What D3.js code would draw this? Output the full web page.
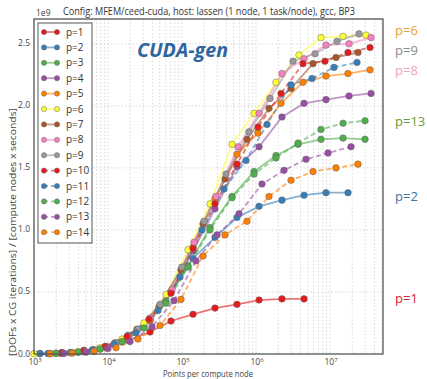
<!DOCTYPE html>
<html><head><meta charset="utf-8">
<script src="https://cdn.jsdelivr.net/npm/d3@7"></script>
<style>body{margin:0;background:#fff}svg{display:block;font-family:"Open Sans",sans-serif}</style>
</head><body><svg id="c" width="427" height="379"></svg>
<script>
const seriesNames = ["p=1","p=2","p=3","p=4","p=5","p=6","p=7","p=8","p=9","p=10","p=11","p=12","p=13","p=14"];
const seriesColors = ["#e41a1c","#377eb8","#4daf4a","#984ea3","#ff7f00","#ffff33","#a65628","#f781bf","#999999","#e41a1c","#377eb8","#4daf4a","#984ea3","#ff7f00"];
const seriesDashed = [false,false,false,false,false,false,false,false,false,true,true,true,true,true];

const p1x = [1205,2389,4742,9397,18640,36970,70960,140900,279200,553400,1099000,2244000,4457000];
const p1y = [0.004,0.012,0.03,0.06,0.11,0.177,0.266,0.32,0.37,0.40,0.435,0.444,0.444];
const p2x = [1205,2389,4742,9397,18640,36970,70960,140900,279200,553400,1099000,2244000,4457000,8831000,17500000];
const p2y = [0.003,0.01,0.025,0.06,0.15,0.28,0.50,0.77,0.94,1.10,1.19,1.24,1.28,1.30,1.30];
const p3x = [1983,3934,7798,15460,30620,60810,120500,238800,474200,939700,1862000,3698000,7551000,15000000,29720000];
const p3y = [0.005,0.015,0.04,0.10,0.22,0.42,0.71,1.02,1.27,1.47,1.60,1.69,1.73,1.74,1.73];
const p4x = [2389,4742,9397,18640,36970,70960,140900,279200,553400,1099000,2244000,4457000,8831000,18070000,35810000];
const p4y = [0.007,0.02,0.05,0.12,0.27,0.50,0.83,1.17,1.51,1.67,1.91,2.02,2.05,2.08,2.10];
const p5x = [2389,4742,9397,18640,36970,70960,140900,279200,553400,1064000,2178000,4315000,8831000,17500000,34750000];
const p5y = [0.006,0.02,0.05,0.12,0.27,0.50,0.86,1.25,1.61,1.78,2.02,2.19,2.24,2.26,2.29];
const p6x = [1000,1983,3934,7798,15460,30620,60810,120500,238800,474200,939700,1862000,3811000,7551000,15000000,30620000];
const p6y = [0.002,0.007,0.02,0.05,0.12,0.25,0.48,0.84,1.21,1.69,1.94,2.19,2.41,2.55,2.56,2.57];
const p7x = [1595,3162,6270,12440,24660,48870,96830,192300,381100,755100,1500000,2972000,5888000,12050000,23890000];
const p7y = [0.004,0.012,0.035,0.09,0.2,0.38,0.68,1.05,1.41,1.73,1.98,2.14,2.34,2.39,2.43];
const p8x = [2389,4742,9397,18640,36970,73280,145200,287800,571500,1099000,2244000,4457000,8831000,18070000,35810000];
const p8y = [0.007,0.02,0.06,0.14,0.29,0.52,0.90,1.27,1.67,1.94,2.26,2.38,2.49,2.50,2.55];
const p9x = [1645,3264,6471,12830,25430,50470,100000,198200,393500,803500,1546000,3162000,6266000,12450000,24660000];
const p9y = [0.004,0.012,0.035,0.09,0.2,0.40,0.70,1.07,1.45,1.79,2.06,2.36,2.42,2.52,2.58];
const p10x = [2317,4592,9101,18070,35810,70960,140900,279200,553400,1064000,2178000,4315000,8551000,17500000,34750000];
const p10y = [0.007,0.02,0.06,0.14,0.28,0.49,0.85,1.21,1.53,1.83,2.10,2.34,2.36,2.43,2.47];
const p11x = [1546,3065,6081,12053,23890,47420,93970,186200,369600,732800,1409000,2972000,5715000,11320000,23170000];
const p11y = [0.003,0.01,0.03,0.08,0.17,0.35,0.62,1.00,1.33,1.56,1.85,2.17,2.22,2.31,2.35];
const p12x = [1983,3934,7798,15460,30620,60810,120500,238800,474200,939700,1862000,3698000,7551000,15000000,29720000];
const p12y = [0.005,0.014,0.04,0.10,0.21,0.41,0.70,1.00,1.26,1.45,1.58,1.70,1.81,1.86,1.88];
const p13x = [2543,5047,10000,19820,39330,77980,154500,297200,589000,1205000,2389000,4742000,9397000,19230000];
const p13y = [0.005,0.015,0.045,0.10,0.22,0.43,0.75,0.96,1.13,1.37,1.48,1.57,1.62,1.67];
const p14x = [1645,3264,6471,12830,25430,50470,96830,192300,381100,755100,1500000,2972000,5888000,12050000,23890000];
const p14y = [0.002,0.007,0.02,0.05,0.12,0.23,0.44,0.79,0.96,1.07,1.27,1.40,1.47,1.50,1.53];

const xTickExps = [3,4,5,6,7];
const yTicks = [0.0,0.5,1.0,1.5,2.0,2.5];
const sideLabels = ["p=6","p=9","p=8","p=13","p=2","p=1"];
const sideLabelColors = ["#e8a030","#8c8c8c","#f4a3bd","#6a9c34","#3a74a8","#d8232f"];
const sideLabelVals = [2.61,2.45,2.29,1.88,1.27,0.45];

const xs = [p1x,p2x,p3x,p4x,p5x,p6x,p7x,p8x,p9x,p10x,p11x,p12x,p13x,p14x];
const ys = [p1y,p2y,p3y,p4y,p5y,p6y,p7y,p8y,p9y,p10y,p11y,p12y,p13y,p14y];

const svg = d3.select("#c");
const L=34, R=383, T=19, B=354;
const x = d3.scaleLog().domain([1e3, 5.2e7]).range([L, R]);
const y = d3.scaleLinear().domain([0, 2.7]).range([B, T]);

// grid
const g = svg.append("g");
const minor = [];
for (let e=3;e<=7;e++) for (let m=1;m<=9;m++){ const v=m*Math.pow(10,e); if(v>1e3 && v<5.2e7) minor.push(v); }
g.selectAll("line.vg").data(minor).enter().append("line")
  .attr("x1",d=>x(d)).attr("x2",d=>x(d)).attr("y1",T).attr("y2",B)
  .attr("stroke","#d0d0d0").attr("stroke-width",0.8).attr("stroke-dasharray","1.5,2");
g.selectAll("line.hg").data(yTicks.slice(1)).enter().append("line")
  .attr("x1",L).attr("x2",R).attr("y1",d=>y(d)).attr("y2",d=>y(d))
  .attr("stroke","#d0d0d0").attr("stroke-width",0.8).attr("stroke-dasharray","1.5,2");

// series
const line = d3.line().x(d=>x(d[0])).y(d=>y(d[1]));
const plot = svg.append("g");
seriesNames.forEach((n,i)=>{
  const pts = xs[i].map((v,j)=>[v, ys[i][j]]);
  plot.append("path").datum(pts).attr("d",line).attr("fill","none")
    .attr("stroke",seriesColors[i]).attr("stroke-width",1.8).attr("stroke-opacity",0.6)
    .attr("stroke-dasharray", seriesDashed[i] ? "5,3" : null);
});
seriesNames.forEach((n,i)=>{
  const pts = xs[i].map((v,j)=>[v, ys[i][j]]);
  plot.selectAll(null).data(pts).enter().append("circle")
    .attr("cx",d=>x(d[0])).attr("cy",d=>y(d[1])).attr("r",3.3)
    .attr("fill",seriesColors[i]).attr("stroke","#666").attr("stroke-width",0.5);
});

// spines
svg.append("rect").attr("x",L).attr("y",T).attr("width",R-L).attr("height",B-T)
  .attr("fill","none").attr("stroke","#555").attr("stroke-width",1.3);

// y ticks
svg.selectAll("text.yt").data(yTicks).enter().append("text")
  .attr("x",L-4).attr("y",d=>y(d)+2.5).attr("text-anchor","end")
  .attr("font-size",8.5).attr("fill","#444").text(d=>d.toFixed(1));
svg.append("text").attr("x",36).attr("y",16).attr("font-size",8.5).attr("fill","#444").text("1e9");

// x ticks
xTickExps.forEach(e=>{
  const t = svg.append("text").attr("x",x(Math.pow(10,e))+1).attr("y",365)
    .attr("text-anchor","middle").attr("font-size",8.5).attr("fill","#444");
  t.append("tspan").text("10");
  t.append("tspan").attr("dy",-3).attr("font-size",6).text(String(e));
});
svg.append("text").attr("x",208).attr("y",376.5).attr("text-anchor","middle")
  .attr("font-size",8.5).attr("fill","#444").attr("textLength",90).attr("lengthAdjust","spacingAndGlyphs")
  .text("Points per compute node");
svg.append("text").attr("transform","translate(16,232) rotate(-90)").attr("text-anchor","middle")
  .attr("font-size",9).attr("fill","#444").attr("textLength",248).attr("lengthAdjust","spacingAndGlyphs")
  .text("[DOFs x CG iterations] / [compute nodes x seconds]");

// title
svg.append("text").attr("x",209).attr("y",15).attr("text-anchor","middle")
  .attr("font-size",11).attr("fill","#333").attr("textLength",292).attr("lengthAdjust","spacingAndGlyphs")
  .text("Config: MFEM/ceed-cuda, host: lassen (1 node, 1 task/node), gcc, BP3");

// CUDA-gen
svg.append("text").attr("x",137).attr("y",57).attr("font-size",19).attr("font-weight","bold")
  .attr("font-style","italic").attr("fill","#2d65a0").attr("textLength",91).attr("lengthAdjust","spacingAndGlyphs")
  .text("CUDA-gen");

// legend
const lg = svg.append("g");
lg.append("rect").attr("x",38).attr("y",23).attr("width",54).attr("height",220)
  .attr("fill","#fff").attr("stroke","#555").attr("stroke-width",1);
seriesNames.forEach((n,i)=>{
  const yy = 32 + i*15.4;
  lg.append("line").attr("x1",44).attr("x2",57).attr("y1",yy).attr("y2",yy)
    .attr("stroke",seriesColors[i]).attr("stroke-width",1.8).attr("stroke-opacity",0.6)
    .attr("stroke-dasharray", seriesDashed[i] ? "4,3" : null);
  [44,57].forEach(cx=>lg.append("circle").attr("cx",cx).attr("cy",yy).attr("r",2.6)
    .attr("fill",seriesColors[i]).attr("stroke","#666").attr("stroke-width",0.5));
  lg.append("text").attr("x",66).attr("y",yy+3.5).attr("font-size",10).attr("fill","#333").text(n);
});

// side labels
svg.selectAll("text.side").data(sideLabels).enter().append("text")
  .attr("x",395).attr("y",(d,i)=>y(sideLabelVals[i])+5)
  .attr("font-size",13).attr("fill",(d,i)=>sideLabelColors[i]).text(d=>d);
</script></body></html>
